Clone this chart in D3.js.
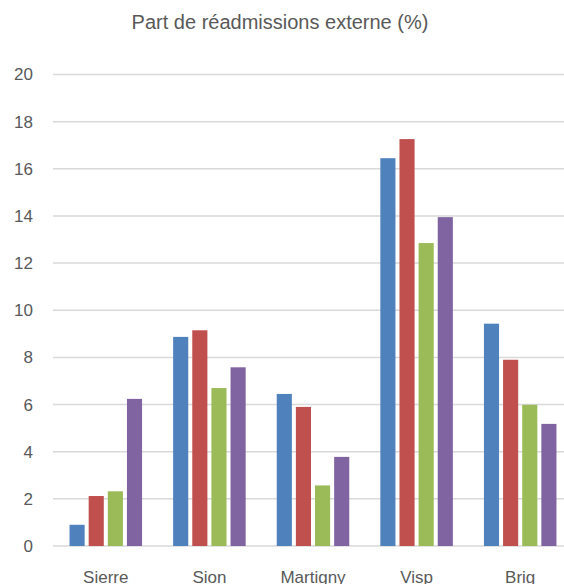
<!DOCTYPE html>
<html>
<head>
<meta charset="utf-8">
<script src="https://cdn.jsdelivr.net/npm/d3@7"></script>
<style>
  body { margin: 0; background: #fff; }
  text { font-family: "Liberation Sans", Arial, sans-serif; fill: #595959; }
</style>
</head>
<body>
<svg id="chart" width="564" height="584"></svg>
<script>
// data
const sites = ["Sierre", "Sion", "Martigny", "Visp", "Brig"];
const series = ["s1", "s2", "s3", "s4"];
const colors = ["#4F81BD", "#C0504D", "#9BBB59", "#8064A2"];
const s1 = [0.9, 8.87, 6.45, 16.45, 9.43];
const s2 = [2.12, 9.15, 5.9, 17.26, 7.9];
const s3 = [2.32, 6.7, 2.57, 12.85, 5.99];
const s4 = [6.24, 7.58, 3.78, 13.95, 5.18];
const yTicks = [0, 2, 4, 6, 8, 10, 12, 14, 16, 18, 20];

const values = [s1, s2, s3, s4];

const svg = d3.select("#chart");

// scales (plot runs past the right edge of the window, like the reference)
const x0 = d3.scaleBand()
  .domain(sites)
  .range([54, 572])
  .paddingInner(0.3)
  .paddingOuter(0.15);

const x1 = d3.scaleBand()
  .domain(series)
  .range([0, x0.bandwidth()])
  .paddingInner(0.21);

const y = d3.scaleLinear()
  .domain([0, 20])
  .range([546, 74.5]);

// title
svg.append("text")
  .attr("x", 280)
  .attr("y", 29)
  .attr("text-anchor", "middle")
  .style("font-size", "20px")
  .text("Part de réadmissions externe (%)");

// gridlines
svg.append("g")
  .selectAll("line")
  .data(yTicks)
  .join("line")
  .attr("x1", 53)
  .attr("x2", 572)
  .attr("y1", (d) => y(d))
  .attr("y2", (d) => y(d))
  .attr("stroke", "#D9D9D9")
  .attr("stroke-width", 1.5);

// y tick labels
svg.append("g")
  .selectAll("text")
  .data(yTicks)
  .join("text")
  .attr("x", 33)
  .attr("y", (d) => y(d))
  .attr("dy", "0.35em")
  .attr("text-anchor", "end")
  .style("font-size", "17px")
  .text((d) => d);

// bars
const groups = svg.append("g")
  .selectAll("g")
  .data(sites)
  .join("g")
  .attr("transform", (d) => `translate(${x0(d)},0)`);

groups.selectAll("rect")
  .data((site, i) => series.map((s, j) => ({ s, j, v: values[j][i] })))
  .join("rect")
  .attr("x", (d) => x1(d.s))
  .attr("width", x1.bandwidth())
  .attr("y", (d) => y(d.v))
  .attr("height", (d) => y(0) - y(d.v))
  .attr("fill", (d) => colors[d.j]);

// category labels
svg.append("g")
  .selectAll("text")
  .data(sites)
  .join("text")
  .attr("x", (d) => x0(d) + x0.bandwidth() / 2)
  .attr("y", 583)
  .attr("text-anchor", "middle")
  .style("font-size", "17px")
  .text((d) => d);
</script>
</body>
</html>
